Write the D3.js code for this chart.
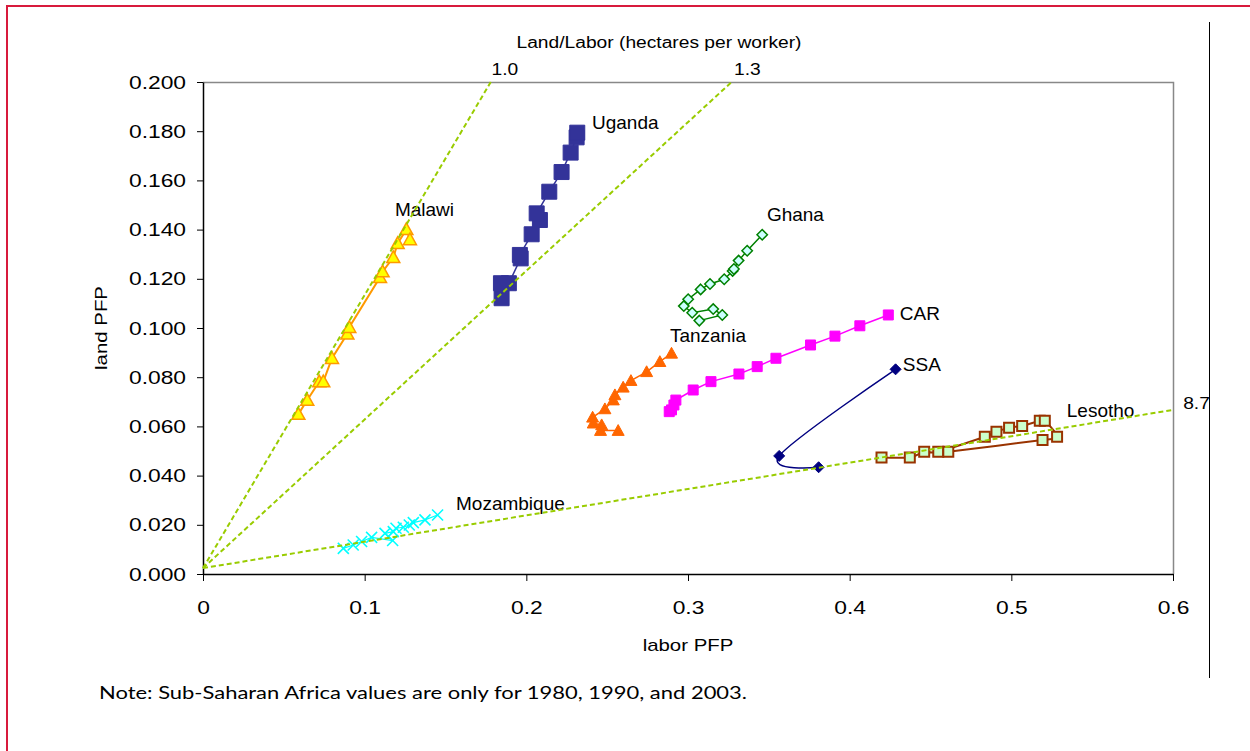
<!DOCTYPE html>
<html>
<head>
<meta charset="utf-8">
<script src="https://cdn.jsdelivr.net/npm/d3@7"></script>
<style>
  html, body { margin: 0; padding: 0; background: #fff; }
  svg { display: block; }
  text { font-family: "Liberation Sans", Arial, sans-serif; fill: #000; }
  text.note { font-family: Lato, "Open Sans", sans-serif; }
</style>
</head>
<body>
<svg id="chart" width="1250" height="751"></svg>
<script>
// Partial factor productivity by country: [labor PFP, land PFP]
const malawi = [[0.0590,0.0650],[0.0645,0.0707],[0.0719,0.0782],[0.0744,0.0782],[0.0798,0.0877],[0.0893,0.0976],[0.0905,0.1003],[0.1095,0.1206],[0.1111,0.1229],[0.1177,0.1287],[0.1204,0.1344],[0.1258,0.1401],[0.1280,0.1360]];
const uganda = [[0.1847,0.1121],[0.1843,0.1182],[0.1892,0.1182],[0.1965,0.1283],[0.1960,0.1297],[0.2033,0.1381],[0.2084,0.1439],[0.2064,0.1466],[0.2142,0.1554],[0.2218,0.1634],[0.2274,0.1713],[0.2311,0.1775],[0.2315,0.1794]];
const ghana = [[0.3070,0.1030],[0.3212,0.1053],[0.3156,0.1077],[0.3026,0.1062],[0.2974,0.1089],[0.3001,0.1117],[0.3078,0.1157],[0.3136,0.1179],[0.3224,0.1198],[0.3276,0.1232],[0.3284,0.1240],[0.3313,0.1274],[0.3366,0.1314],[0.3459,0.1379]];
const tanzania = [[0.2568,0.0583],[0.2459,0.0583],[0.2466,0.0606],[0.2414,0.0613],[0.2410,0.0637],[0.2486,0.0671],[0.2538,0.0707],[0.2548,0.0728],[0.2599,0.0759],[0.2647,0.0786],[0.2744,0.0822],[0.2826,0.0863],[0.2898,0.0897]];
const car = [[0.2884,0.0660],[0.2898,0.0667],[0.2913,0.0687],[0.2925,0.0707],[0.3032,0.0748],[0.3142,0.0782],[0.3315,0.0813],[0.3428,0.0843],[0.3544,0.0877],[0.3758,0.0931],[0.3909,0.0967],[0.4063,0.1009],[0.4239,0.1053]];
const ssa = [[0.4284,0.0832],[0.3564,0.0480],[0.3808,0.0434]];
const lesotho = [[0.4197,0.0474],[0.4372,0.0474],[0.4461,0.0497],[0.4548,0.0497],[0.4836,0.0558],[0.4908,0.0578],[0.4986,0.0595],[0.5067,0.0602],[0.5176,0.0623],[0.5207,0.0623],[0.5283,0.0558],[0.5193,0.0545],[0.4610,0.0497]];
const mozambique = [[0.0868,0.0104],[0.0929,0.0118],[0.0981,0.0132],[0.1043,0.0149],[0.1173,0.0136],[0.1126,0.0165],[0.1177,0.0172],[0.1194,0.0186],[0.1239,0.0190],[0.1276,0.0199],[0.1301,0.0209],[0.1373,0.0220],[0.1451,0.0240]];

// Land/labor reference rays (hectares per worker)
const rayLabels = ["1.0", "1.3", "8.7"];
const rayEnds = [[[0, 0.0024], [0.178, 0.200]], [[0, 0.0024], [0.327, 0.200]], [[0, 0.0024], [0.600, 0.0667]]];

// Axis ticks
const xTicks = [0, 0.1, 0.2, 0.3, 0.4, 0.5, 0.6];
const yTicks = d3.range(0, 0.2001, 0.02);

const svg = d3.select("#chart");
const plot = { left: 203, right: 1173, top: 82, bottom: 574 };
const x = d3.scaleLinear().domain([0, 0.6]).range([plot.left, plot.right]);
const y = d3.scaleLinear().domain([0, 0.2]).range([plot.bottom, plot.top]);

// Widen glyphs horizontally (axis text is drawn wide)
function widen(sel, k) {
  sel.each(function () {
    const w = this.getComputedTextLength();
    this.setAttribute("textLength", w * k);
    this.setAttribute("lengthAdjust", "spacingAndGlyphs");
  });
}

// Outer frame
svg.append("rect").attr("x", 7).attr("y", 6).attr("width", 1260).attr("height", 760)
  .attr("fill", "none").attr("stroke", "#d81a3c").attr("stroke-width", 2);
svg.append("line").attr("x1", 1209.5).attr("x2", 1209.5).attr("y1", 22).attr("y2", 678)
  .attr("stroke", "#000").attr("stroke-width", 1);

// Plot frame (top / right)
svg.append("path")
  .attr("d", `M${plot.left},${plot.top + 0.5}H${plot.right + 0.5}V${plot.bottom}`)
  .attr("fill", "none").attr("stroke", "#888").attr("stroke-width", 1.5);

// Axes
const gx = svg.append("g").attr("transform", `translate(0,${plot.bottom})`)
  .call(d3.axisBottom(x).tickValues(xTicks).tickFormat(d3.format("")).tickSize(7).tickSizeOuter(0).tickPadding(20));
const gy = svg.append("g").attr("transform", `translate(${plot.left},0)`)
  .call(d3.axisLeft(y).tickValues(yTicks).tickFormat(d3.format(".3f")).tickSize(6).tickSizeOuter(0).tickPadding(11));
[gx, gy].forEach(g => {
  g.select(".domain").attr("stroke", "#000").attr("stroke-width", 1.5);
  g.selectAll(".tick line").attr("stroke", "#000");
  g.selectAll(".tick text").attr("font-size", 19).attr("fill", "#000");
  widen(g.selectAll(".tick text"), 1.2);
});

// Axis titles
widen(svg.append("text").attr("x", (plot.left + plot.right) / 2).attr("y", 651)
  .attr("text-anchor", "middle").attr("font-size", 17).text("labor PFP"), 1.2);
widen(svg.append("text").attr("transform", `translate(107,${(plot.top + plot.bottom) / 2}) rotate(-90)`)
  .attr("text-anchor", "middle").attr("font-size", 17).text("land PFP"), 1.2);
widen(svg.append("text").attr("x", 659).attr("y", 48)
  .attr("text-anchor", "middle").attr("font-size", 16).text("Land/Labor (hectares per worker)"), 1.2);

// Marker shapes, r = half width in px
const shapes = {
  triangle: r => `M0,${-r}L${r},${r * 0.8}L${-r},${r * 0.8}Z`,
  square: r => `M${-r},${-r}H${r}V${r}H${-r}Z`,
  diamond: r => `M0,${-r}L${r},0L0,${r}L${-r},0Z`,
  cross: r => `M${-r},${-r}L${r},${r}M${r},${-r}L${-r},${r}`
};

const series = [
  { name: "Malawi", data: malawi, line: "#ff9900", lw: 2, shape: "triangle", r: 6.5, fill: "#ffff00", stroke: "#ff9900", sw: 1.5, curve: d3.curveLinear },
  { name: "Uganda", data: uganda, line: "#333399", lw: 1.5, shape: "square", r: 7.5, fill: "#333399", stroke: "#333399", sw: 1, curve: d3.curveLinear },
  { name: "Ghana", data: ghana, line: "#008000", lw: 1.5, shape: "diamond", r: 5.2, fill: "#ccffff", stroke: "#008000", sw: 1.5, curve: d3.curveLinear },
  { name: "Tanzania", data: tanzania, line: "#ff6600", lw: 1.5, shape: "triangle", r: 6, fill: "#ff6600", stroke: "#ff6600", sw: 1, curve: d3.curveLinear },
  { name: "CAR", data: car, line: "#ff00ff", lw: 1.5, shape: "square", r: 5, fill: "#ff00ff", stroke: "#ff00ff", sw: 1, curve: d3.curveLinear },
  { name: "SSA", data: ssa, line: "#000080", lw: 1.5, shape: "diamond", r: 5.5, fill: "#000080", stroke: "#000080", sw: 1, curve: d3.curveCardinal.tension(0) },
  { name: "Lesotho", data: lesotho, line: "#993300", lw: 2, shape: "square", r: 5, fill: "#ccffcc", stroke: "#993300", sw: 2, curve: d3.curveCardinal.tension(0) },
  { name: "Mozambique", data: mozambique, line: "#00ffff", lw: 1.2, shape: "cross", r: 5.5, fill: "none", stroke: "#00ffff", sw: 1.6, curve: d3.curveLinear }
];

// Label anchors (data units, text start + baseline)
const labelAt = {
  Malawi: [0.1187, 0.1455], Uganda: [0.2406, 0.1809], Ghana: [0.3488, 0.1435], Tanzania: [0.2888, 0.0943],
  CAR: [0.4310, 0.1033], SSA: [0.4329, 0.0825], Lesotho: [0.5343, 0.0638], Mozambique: [0.1565, 0.0260]
};

series.forEach(s => {
  const g = svg.append("g");
  g.append("path")
    .attr("d", d3.line().x(d => x(d[0])).y(d => y(d[1])).curve(s.curve)(s.data))
    .attr("fill", "none").attr("stroke", s.line).attr("stroke-width", s.lw);
  g.selectAll("path.m").data(s.data).join("path").attr("class", "m")
    .attr("transform", d => `translate(${x(d[0])},${y(d[1])})`)
    .attr("d", shapes[s.shape](s.r))
    .attr("fill", s.fill).attr("stroke", s.stroke).attr("stroke-width", s.sw);
  svg.append("text").attr("x", x(labelAt[s.name][0])).attr("y", y(labelAt[s.name][1]))
    .attr("font-size", 19).text(s.name);
});

// Reference rays
rayEnds.forEach(seg => {
  svg.append("path")
    .attr("d", d3.line().x(d => x(d[0])).y(d => y(d[1]))(seg))
    .attr("fill", "none").attr("stroke", "#99cc00").attr("stroke-width", 2)
    .attr("stroke-dasharray", "5,3");
});
const rayLabelPos = [[0.1785, 0.2029], [0.3285, 0.2029], [0.6063, 0.0670]];
rayLabels.forEach((t, i) => {
  widen(svg.append("text").attr("x", x(rayLabelPos[i][0])).attr("y", y(rayLabelPos[i][1]))
    .attr("font-size", 16).text(t), 1.2);
});

// Footnote
svg.append("text").attr("class", "note").attr("x", 99).attr("y", 699)
  .attr("font-size", 17)
  .attr("textLength", 648).attr("lengthAdjust", "spacingAndGlyphs")
  .text("Note: Sub-Saharan Africa values are only for 1980, 1990, and 2003.");
</script>
</body>
</html>
